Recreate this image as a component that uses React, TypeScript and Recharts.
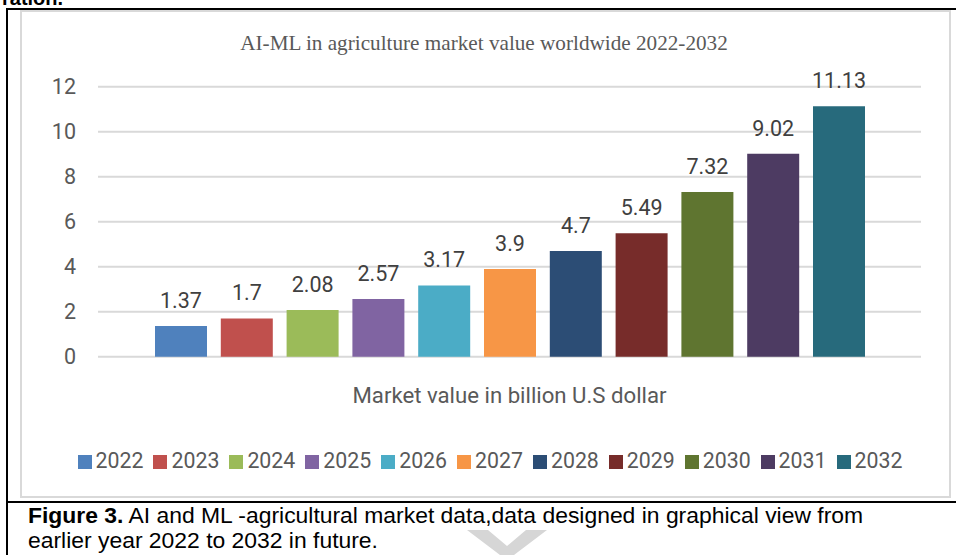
import React from 'react';
import { BarChart, Bar, XAxis, YAxis, CartesianGrid, Legend, LabelList } from 'recharts';

const years = ['2022', '2023', '2024', '2025', '2026', '2027', '2028', '2029', '2030', '2031', '2032'];
const values = [1.37, 1.7, 2.08, 2.57, 3.17, 3.9, 4.7, 5.49, 7.32, 9.02, 11.13];
const colors = ['#4f81bd', '#c0504d', '#9bbb59', '#8064a2', '#4bacc6', '#f79646', '#2c4d75', '#772c2a', '#5f7530', '#4d3b62', '#276a7c'];
const category = 'Market value in billion U.S dollar';
const yTicks = [0, 2, 4, 6, 8, 10, 12];
const title = 'AI-ML in agriculture market value worldwide 2022-2032';
const captionBold = 'Figure 3.';
const captionLine1 = ' AI and ML -agricultural market data,data designed in graphical view from';
const captionLine2 = 'earlier year 2022 to 2032 in future.';

const row: Record<string, string | number> = { name: category };
years.forEach((y, i) => {
  row['y' + y] = values[i];
});
const data = [row];

const FONT = 'Roboto, "Noto Sans", sans-serif';

export default function App() {
  return (
    <div style={{ position: 'absolute', left: 0, top: 0, width: 956, height: 555, overflow: 'hidden', background: '#fff' }}>
      <svg width={956} height={555} style={{ position: 'absolute', left: 0, top: 0 }}>
        <text x={2} y={5} fontFamily='"Liberation Sans", Arial, sans-serif' fontSize={20} fontWeight="bold" fill="#000">ration.</text>
        {/* outer black frame */}
        <rect x={6} y={8} width={2} height={547} fill="#000" />
        <rect x={6} y={8} width={950} height={2} fill="#000" />
        <rect x={6} y={501} width={950} height={2} fill="#000" />
        {/* gray chart frame */}
        <rect x={21} y={11} width={929} height={486} fill="none" stroke="#d9d9d9" strokeWidth={2} />
        <text x={484} y={50} textAnchor="middle" fontFamily='"Liberation Serif", "Times New Roman", serif' fontSize={21.2} fill="#595959">{title}</text>
        <text x={28} y={523} fontFamily='"Liberation Sans", Arial, sans-serif' fontSize={22.9} fill="#000">
          <tspan fontWeight="bold">{captionBold}</tspan>
          {captionLine1}
        </text>
        <text x={28} y={548} fontFamily='"Liberation Sans", Arial, sans-serif' fontSize={22.9} fill="#000">{captionLine2}</text>
        <polygon points="467,530 488,530 507,546 526,530 547,530 514,555 500,555" fill="#d6d6d6" />
      </svg>
      <div style={{ position: 'absolute', left: 0, top: 0 }}>
        <BarChart
          width={956}
          height={500}
          data={data}
          margin={{ top: 86.7, right: 35, left: 0, bottom: 113.3 }}
          barCategoryGap={57}
          barGap={13.8}
          style={{ fontFamily: FONT }}
        >
          <CartesianGrid horizontal vertical={false} stroke="#d9d9d9" strokeWidth={2} />
          <XAxis
            dataKey="name"
            tickLine={false}
            axisLine={false}
            tickMargin={25}
            tick={{ fill: '#595959', fontSize: 22.2, fontFamily: FONT }}
          />
          <YAxis
            width={98}
            domain={[0, 12]}
            ticks={yTicks}
            tickLine={false}
            axisLine={false}
            tickMargin={16}
            tick={{ fill: '#595959', fontSize: 21.5, fontFamily: FONT }}
          />
          <Legend
            layout="horizontal"
            verticalAlign="middle"
            align="center"
            iconType="square"
            iconSize={14}
            wrapperStyle={{ top: 448, left: 17, width: 956, fontFamily: FONT, fontSize: 21.3 }}
            formatter={(v) => <span style={{ color: '#595959' }}>{v}</span>}
          />
          {years.map((y, i) => (
            <Bar key={y} dataKey={'y' + y} name={y} fill={colors[i]} isAnimationActive={false}>
              <LabelList dataKey={'y' + y} position="top" offset={18} fill="#404040" fontSize={21.5} fontFamily={FONT} />
            </Bar>
          ))}
        </BarChart>
      </div>
    </div>
  );
}
